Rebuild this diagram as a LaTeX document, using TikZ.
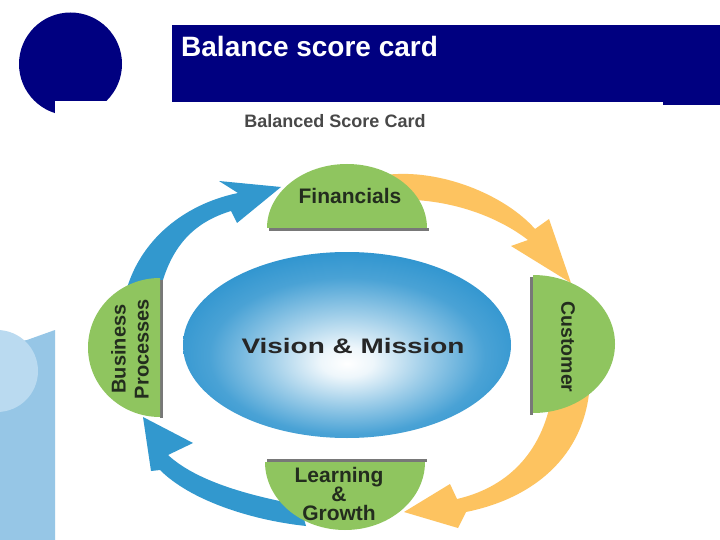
\documentclass[tikz,border=0pt]{standalone}
\usepackage{fontspec}
\setmainfont{Liberation Sans}
\usepackage{graphicx}
\definecolor{navy}{RGB}{0,0,128}
\definecolor{bluearr}{RGB}{50,152,206}
\definecolor{orangearr}{RGB}{253,195,96}
\definecolor{domegreen}{RGB}{143,197,95}
\definecolor{ellblue}{RGB}{42,146,206}
\definecolor{lightrect}{RGB}{150,198,230}
\definecolor{lightcirc}{RGB}{186,218,240}
\definecolor{dometext}{RGB}{35,45,30}
\definecolor{subgray}{RGB}{72,72,72}
\definecolor{shadowc}{RGB}{120,120,120}
\pgfdeclareradialshading{vmshade}{\pgfpoint{0bp}{-5bp}}{color(0bp)=(white); color(4bp)=(white!92!ellblue); color(12bp)=(ellblue!45!white); color(21bp)=(ellblue!85!white); color(29bp)=(ellblue); color(50bp)=(ellblue)}
\tikzset{
  domefill/.style={fill=domegreen},
  domeshadow/.style={draw=shadowc, line width=3pt},
  dometxt/.style={text=dometext, inner sep=0pt},
  arrblue/.style={fill=bluearr},
  arrorange/.style={fill=orangearr},
}
\begin{document}
\begin{tikzpicture}[x=1pt, y=-1pt]
\useasboundingbox (0,0) rectangle (720,540);
\fill[white] (0,0) rectangle (720,540);

% top-left navy circle with notch
\fill[navy] (70.5,64) circle (51.5);
\fill[white] (55,101) rectangle (130,120);

% header bar
\fill[navy] (172,25) rectangle (720,102);
\fill[navy] (663,101) rectangle (720,105);
\node[anchor=base west, text=white, inner sep=0pt, font=\fontsize{28}{30}\selectfont\bfseries] (title) at (181,57) {Balance score card};

% left decorative shapes
\fill[lightrect] (0,345) -- (27,340) -- (55,330) -- (55,540) -- (0,540) -- cycle;
\fill[lightcirc] (-3,371) circle (41);

% subtitle
\node[anchor=base, text=subgray, inner sep=0pt, font=\fontsize{18}{20}\selectfont\bfseries] (sub) at (335,128) {Balanced Score Card};

% central ellipse
\shade[shading=vmshade] (347,345) ellipse [x radius=164, y radius=93];
\node[inner sep=0pt, text=black!85, font=\fontsize{21}{24}\selectfont\bfseries] (vm) at (353,345.5) {\scalebox{1.33}[1]{Vision \& Mission}};

% arrows
\fill[arrblue] (124,300) .. controls (135,245) and (180,205) .. (238,193) -- (219,181) -- (281,187) -- (237,223) -- (231,211) .. controls (195,222) and (170,245) .. (159,295) -- cycle;
\fill[arrorange] (385,175) .. controls (440,168) and (505,195) .. (535,229) -- (549,219) -- (571,283) -- (511,246) -- (528,240) .. controls (505,222) and (465,203) .. (415,200) -- (395,210) -- cycle;
\fill[arrorange] (590,380) .. controls (588,450) and (540,497) .. (466,512) -- (458,528) -- (404,512) -- (450,484) -- (457,499) .. controls (505,488) and (542,455) .. (552,395) -- (560,380) -- cycle;
\fill[arrblue] (306,526) .. controls (250,520) and (190,500) .. (160,470) -- (151,471) -- (143,417) -- (193,443) -- (168,455) .. controls (195,480) and (245,495) .. (300,505) -- cycle;

% shadows of domes
\draw[domeshadow] (269,229.5) -- (429,229.5);
\draw[domeshadow] (531.5,277) -- (531.5,415);
\draw[domeshadow] (161.5,280) -- (161.5,418);
\draw[domeshadow] (267,460.5) -- (427,460.5);

% domes
\begin{scope}
\clip (260,150) rectangle (440,228);
\fill[domefill] (347,228) ellipse [x radius=80, y radius=64];
\end{scope}
\begin{scope}
\clip (533,270) rectangle (625,420);
\fill[domefill] (533,344) ellipse [x radius=82, y radius=69];
\end{scope}
\begin{scope}
\clip (80,270) rectangle (160,425);
\fill[domefill] (160,347.5) ellipse [x radius=72, y radius=69.5];
\end{scope}
\begin{scope}
\clip (260,462) rectangle (430,535);
\fill[domefill] (345,462) ellipse [x radius=80, y radius=68];
\end{scope}

% dome labels
\node[dometxt, font=\fontsize{21}{24}\selectfont\bfseries] (fin) at (350,195.5) {Financials};
\node[dometxt, rotate=-90, font=\fontsize{19.5}{22}\selectfont\bfseries] (cust) at (568,347) {Customer};
\node[dometxt, rotate=90, align=center, font=\fontsize{20}{23}\selectfont\bfseries] (bp) at (130,349) {Business\\Processes};
\node[dometxt, align=center, font=\fontsize{21}{19}\selectfont\bfseries] (lg) at (339,494) {Learning\\\&\\Growth};
\end{tikzpicture}
\end{document}
